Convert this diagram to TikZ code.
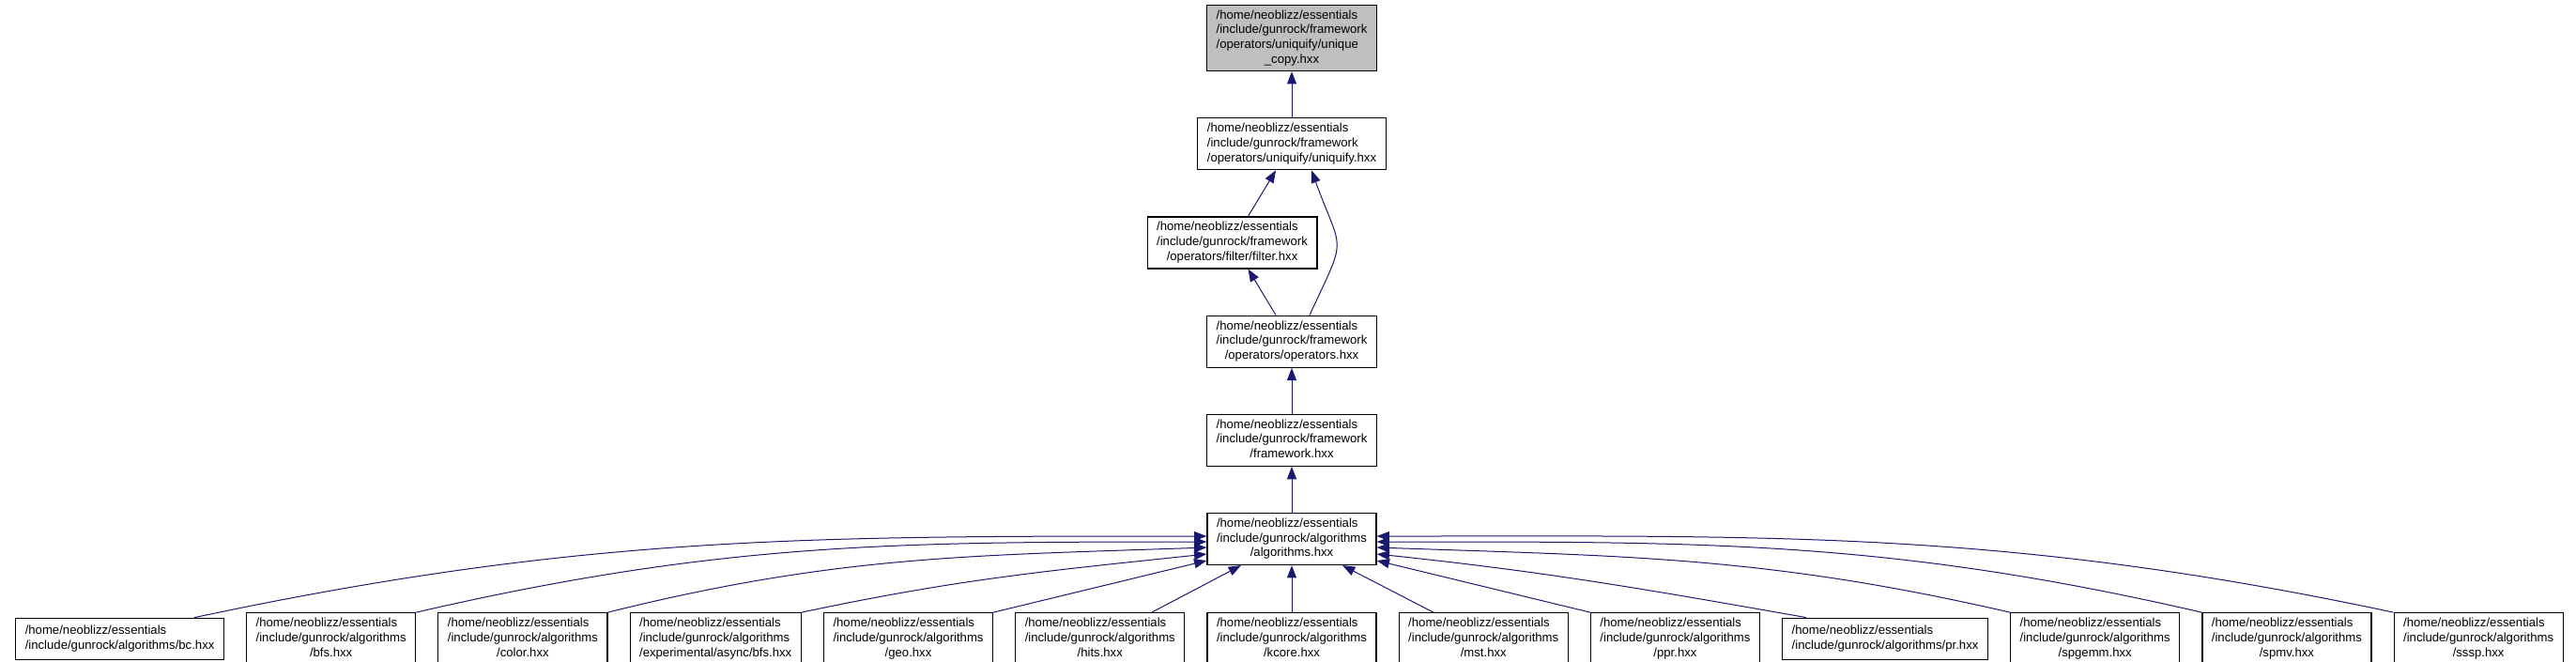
\documentclass[tikz,border=0pt]{standalone}
\usepackage{fontspec}
\newfontfamily\graphfont{Liberation Sans}
\usepackage{xcolor}
\definecolor{edgeblue}{RGB}{25,25,112}
\definecolor{rootgray}{RGB}{191,191,191}
\usepackage{tikz}
\usetikzlibrary{arrows.meta,positioning}
% file label: first lines left, last line centred
\newcommand{\hpath}[2]{\begin{tabular}{@{}l@{}}#1\\\multicolumn{1}{@{}c@{}}{#2}\end{tabular}}

\begin{document}
\begin{tikzpicture}[
  node distance=36.75pt and 17.25pt,
  file/.style={rectangle, draw=black, fill=white, line width=0.9pt,
              inner xsep=7.5pt, inner ysep=2pt, minimum height=41.25pt,
              font=\graphfont\fontsize{9.86}{11.75}\selectfont},
  rootfile/.style={file, fill=rootgray, minimum height=52.5pt},
  shortfile/.style={file, minimum height=33pt},
  arr/.style={-{Triangle[length=10pt,width=7.5pt]}, line width=0.75pt, color=edgeblue}
]
\useasboundingbox (0,0) rectangle (2058pt,-528.75pt);

\node[rootfile] (root) at (1032pt,-30.4pt)
  {\hpath{/home/neoblizz/essentials\\/include/gunrock/framework\\/operators/uniquify/unique}{\_copy.hxx}};
\node[file, below=of root] (uniq)
  {\hpath{/home/neoblizz/essentials\\/include/gunrock/framework}{/operators/uniquify/uniquify.hxx}};
\node[file, below=of uniq, xshift=-47.6pt] (filter)
  {\hpath{/home/neoblizz/essentials\\/include/gunrock/framework}{/operators/filter/filter.hxx}};
\node[file, below=of filter, xshift=47.6pt] (ops)
  {\hpath{/home/neoblizz/essentials\\/include/gunrock/framework}{/operators/operators.hxx}};
\node[file, below=of ops] (fw)
  {\hpath{/home/neoblizz/essentials\\/include/gunrock/framework}{/framework.hxx}};
\node[file, below=of fw] (algo)
  {\hpath{/home/neoblizz/essentials\\/include/gunrock/algorithms}{/algorithms.hxx}};

%% bottom row
\node[file, below=37.5pt of algo] (kcore)
  {\hpath{/home/neoblizz/essentials\\/include/gunrock/algorithms}{/kcore.hxx}};
\node[file, left=of kcore] (hits)
  {\hpath{/home/neoblizz/essentials\\/include/gunrock/algorithms}{/hits.hxx}};
\node[file, left=of hits] (geo)
  {\hpath{/home/neoblizz/essentials\\/include/gunrock/algorithms}{/geo.hxx}};
\node[file, left=of geo] (exp)
  {\hpath{/home/neoblizz/essentials\\/include/gunrock/algorithms}{/experimental/async/bfs.hxx}};
\node[file, left=of exp] (color)
  {\hpath{/home/neoblizz/essentials\\/include/gunrock/algorithms}{/color.hxx}};
\node[file, left=of color] (bfs)
  {\hpath{/home/neoblizz/essentials\\/include/gunrock/algorithms}{/bfs.hxx}};
\node[shortfile, left=of bfs] (bc)
  {\hpath{/home/neoblizz/essentials}{/include/gunrock/algorithms/bc.hxx}};
\node[file, right=of kcore] (mst)
  {\hpath{/home/neoblizz/essentials\\/include/gunrock/algorithms}{/mst.hxx}};
\node[file, right=of mst] (ppr)
  {\hpath{/home/neoblizz/essentials\\/include/gunrock/algorithms}{/ppr.hxx}};
\node[shortfile, right=of ppr] (pr)
  {\hpath{/home/neoblizz/essentials}{/include/gunrock/algorithms/pr.hxx}};
\node[file, right=of pr] (spgemm)
  {\hpath{/home/neoblizz/essentials\\/include/gunrock/algorithms}{/spgemm.hxx}};
\node[file, right=of spgemm] (spmv)
  {\hpath{/home/neoblizz/essentials\\/include/gunrock/algorithms}{/spmv.hxx}};
\node[file, right=of spmv] (sssp)
  {\hpath{/home/neoblizz/essentials\\/include/gunrock/algorithms}{/sssp.hxx}};

%% include chain
\draw[arr] (uniq) -- (root);
\draw[arr] (filter) -- (uniq);
\draw[arr] (ops) -- (filter);
\draw[arr] ([xshift=14.25pt]ops.north) to[out=65,in=-70,looseness=1.6] ([xshift=15.75pt]uniq.south);
\draw[arr] (fw) -- (ops);
\draw[arr] (algo) -- (fw);

%% users of algorithms.hxx
\draw[arr] ([xshift=59.6pt]bc.north) to[out=12,in=180] ([yshift=2.25pt]algo.west);
\draw[arr] (bfs.north east) to[out=13,in=180] ([yshift=-2.25pt]algo.west);
\draw[arr] (color.north east) to[out=14,in=182] ([yshift=-6.75pt]algo.west);
\draw[arr] (exp.north east) to[out=12,in=186] ([yshift=-12pt]algo.west);
\draw[arr] (geo.north east) -- ([yshift=-17.25pt]algo.west);
\draw[arr] ([xshift=41.25pt]hits.north) -- ([xshift=-40.5pt]algo.south);
\draw[arr] (kcore) -- (algo);
\draw[arr] ([xshift=-40pt]mst.north) -- ([xshift=40.5pt]algo.south);
\draw[arr] (ppr.north west) -- ([yshift=-17.25pt]algo.east);
\draw[arr] ([xshift=-63pt]pr.north) to[out=170,in=-6] ([yshift=-12pt]algo.east);
\draw[arr] (spgemm.north west) to[out=167,in=-2] ([yshift=-6.75pt]algo.east);
\draw[arr] (spmv.north west) to[out=167,in=0] ([yshift=-2.25pt]algo.east);
\draw[arr] (sssp.north west) to[out=168,in=0] ([yshift=2.25pt]algo.east);

\end{tikzpicture}
\end{document}
